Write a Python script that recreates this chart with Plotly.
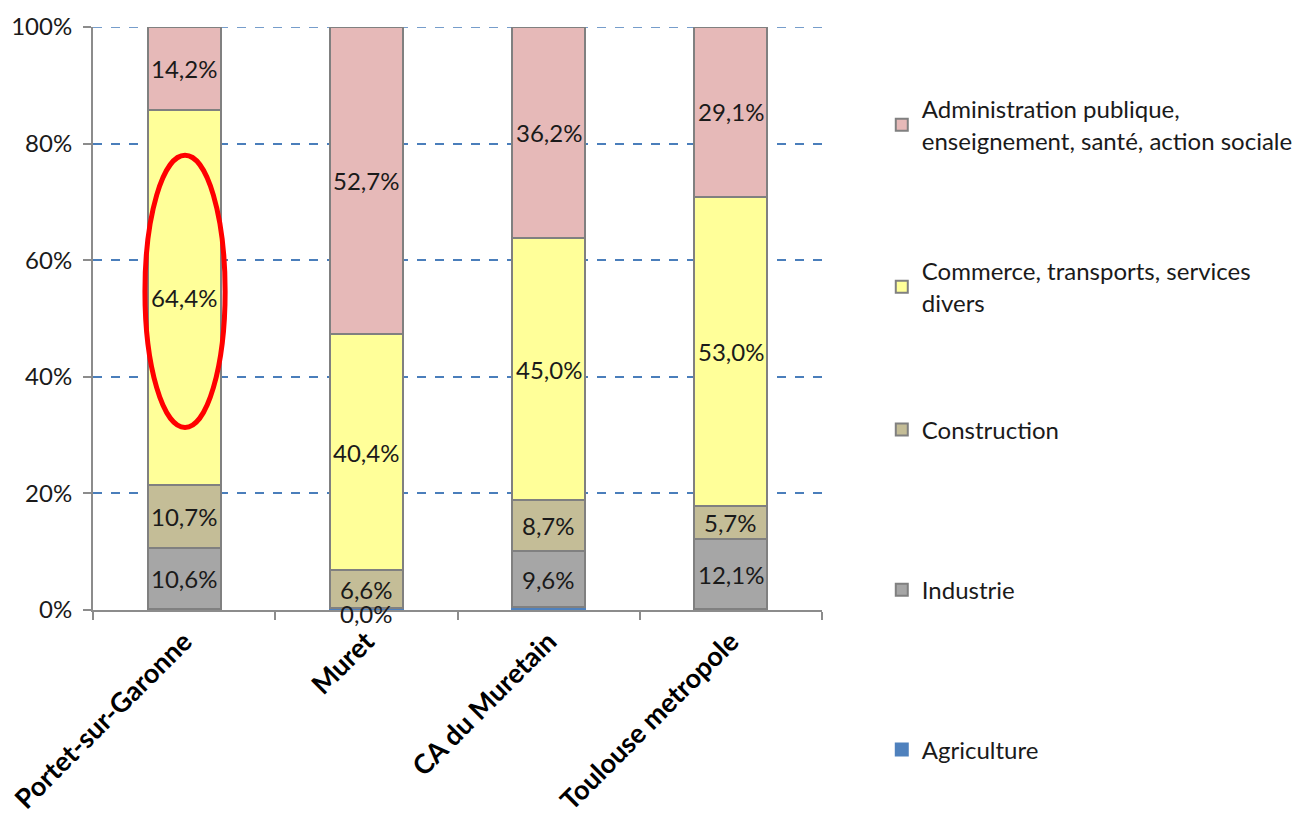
import plotly.graph_objects as go

categories = ["Portet-sur-Garonne", "Muret", "CA du Muretain", "Toulouse metropole"]
agriculture = [0.1, 0.3, 0.5, 0.1]
industrie = [10.6, 0.0, 9.6, 12.1]
construction = [10.7, 6.6, 8.7, 5.7]
commerce = [64.4, 40.4, 45.0, 53.0]
administration = [14.2, 52.7, 36.2, 29.1]

series = [
    ("Agriculture", agriculture, "#4f81bd", False),
    ("Industrie", industrie, "#a6a6a6", True),
    ("Construction", construction, "#c4bd97", True),
    ("Commerce, transports, services<br>divers", commerce, "#ffff99", True),
    ("Administration publique,<br>enseignement, santé, action sociale", administration, "#e6b9b8", True),
]
legend_y = [-0.240, 0.034, 0.309, 0.554, 0.832]  # plot-area fractions for each legend entry

FONT = "Lato"
fig = go.Figure()
base = [0.0] * len(categories)
annotations = []
for i, (name, vals, color, labeled) in enumerate(series):
    lg = "legend" if i == 0 else f"legend{i+1}"
    fig.add_trace(go.Bar(
        x=categories, y=vals, name=name, base=base[:],
        marker=dict(color=color, line=dict(color="#808080" if i > 0 else color, width=2)),
        width=0.4, legend=lg,
    ))
    if labeled:
        for c, v, b in zip(categories, vals, base):
            annotations.append(dict(
                x=c, y=b + v / 2, xref="x", yref="y",
                text=f"{v:.1f}%".replace(".", ","), showarrow=False,
                font=dict(family=FONT, size=24, color="#1a1a1a"),
                yshift=-5 if v == 0 else 0,
            ))
    base = [b + v for b, v in zip(base, vals)]

legends = {}
for i, yy in enumerate(legend_y):
    key = "legend" if i == 0 else f"legend{i+1}"
    legends[key] = dict(
        x=1.082, y=yy, xref="paper", yref="paper", yanchor="middle", xanchor="left",
        font=dict(family=FONT, size=24, color="#1a1a1a"),
        bgcolor="rgba(0,0,0,0)", itemclick=False,
    )

fig.update_layout(
    width=1312, height=819,
    margin=dict(l=85, r=498, t=19, b=217),
    barmode="stack",
    plot_bgcolor="white", paper_bgcolor="white",
    font=dict(family=FONT, size=24, color="#1a1a1a"),
    showlegend=True,
    annotations=annotations,
    **legends,
    shapes=[
        dict(type="line", xref="paper", yref="y", x0=0, x1=1, y0=100, y1=100,
             line=dict(color="#4a7ebb", width=1.5, dash="dash"), layer="below"),
        dict(type="circle", xref="x", yref="y",
             x0=-0.215, x1=0.225, y0=31.3, y1=78.0,
             line=dict(color="#ff0000", width=5), layer="above"),
    ],
)
fig.update_yaxes(
    range=[0, 100], tickvals=[0, 20, 40, 60, 80, 100],
    ticktext=["0%", "20%", "40%", "60%", "80%", "100%"],
    showgrid=True, gridcolor="#4a7ebb", griddash="dash", gridwidth=1.5,
    showline=True, linecolor="#8c8c8c", linewidth=2,
    ticks="outside", ticklen=8, tickcolor="#8c8c8c", tickwidth=2,
    tickfont=dict(family=FONT, size=24, color="#1a1a1a"),
    ticklabelstandoff=6,
    zeroline=False, automargin=False,
)
fig.update_xaxes(
    showline=True, linecolor="#8c8c8c", linewidth=2,
    ticks="outside", ticklen=8, tickcolor="#8c8c8c", tickwidth=2,
    tickson="boundaries", tickangle=-45,
    tickfont=dict(family=FONT, size=27, color="#000000", weight="bold"),
    ticklabelstandoff=3,
    range=[-0.5, 3.5], automargin=False,
)
fig.write_html("out.html")
